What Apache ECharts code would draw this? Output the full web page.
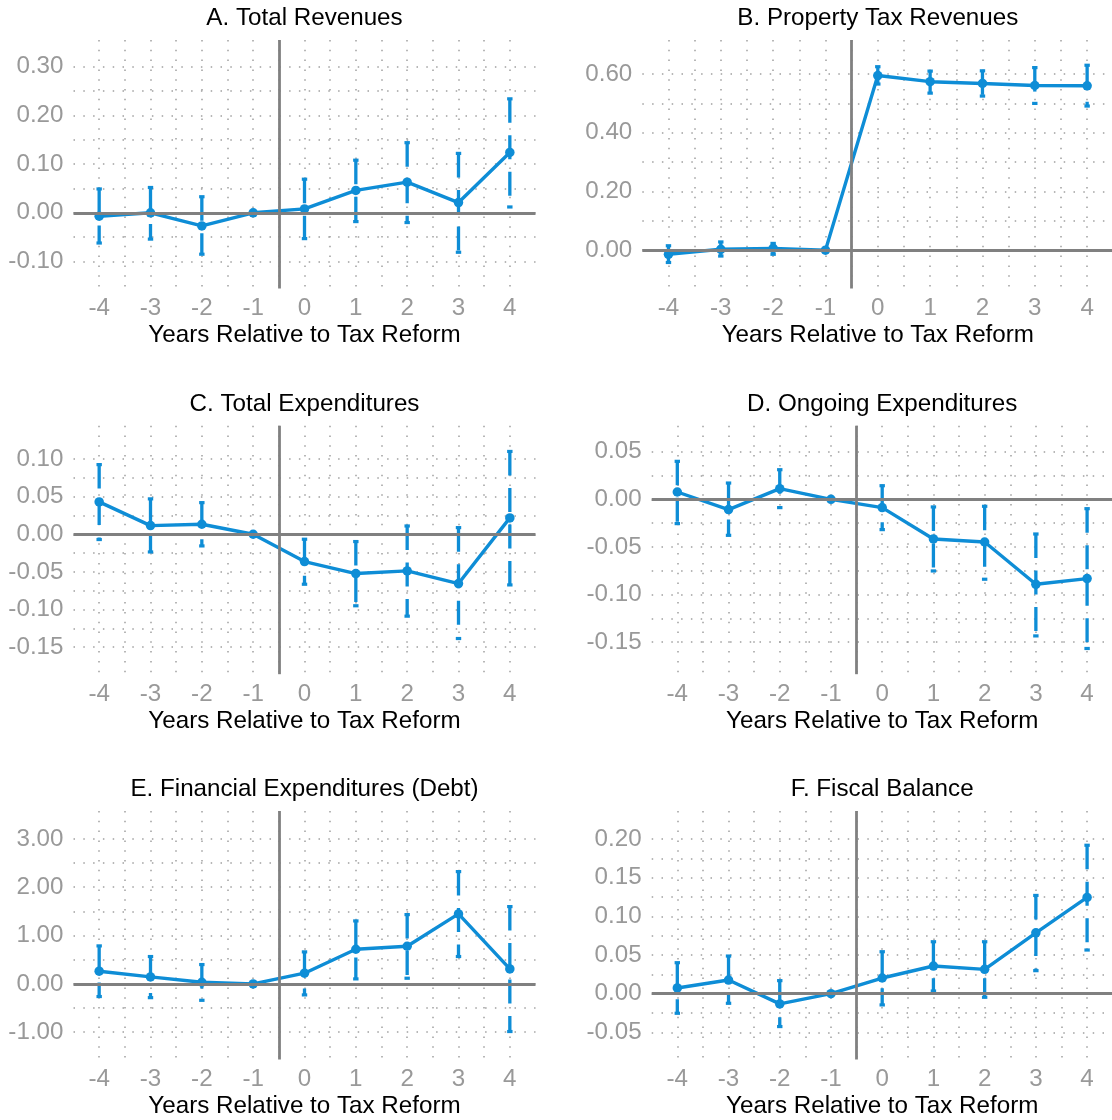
<!DOCTYPE html>
<html><head><meta charset="utf-8">
<script src="https://cdn.jsdelivr.net/npm/echarts@6/dist/echarts.min.js"></script>
<style>html,body{margin:0;padding:0;background:#fff}#c{width:1112px;height:1120px}</style>
</head><body><div id="c"></div>
<script>
// ---------- data ----------
const years = [-4, -3, -2, -1, 0, 1, 2, 3, 4];
const xLabels = [-4, -3, -2, -1, 0, 1, 2, 3, 4];
const xGridVals = [-4, -3.5, -3, -2.5, -2, -1.5, -1, -0.5, 0, 0.5, 1, 1.5, 2, 2.5, 3, 3.5, 4];
const axisTitle = 'Years Relative to Tax Reform';

const titleA = 'A. Total Revenues';
const estA = [-0.007, 0.000, -0.027, 0, 0.008, 0.046, 0.063, 0.021, 0.124];
const loA  = [-0.062, -0.054, -0.085, null, -0.053, -0.018, -0.020, -0.081, 0.012];
const hiA  = [0.049, 0.052, 0.033, null, 0.069, 0.108, 0.144, 0.122, 0.234];
const yMajA = [-0.1, 0, 0.1, 0.2, 0.3];
const yMinA = [-0.05, 0.05, 0.15, 0.25];

const titleB = 'B. Property Tax Revenues';
const estB = [-0.014, 0.003, 0.006, 0, 0.595, 0.574, 0.568, 0.561, 0.560];
const loB  = [-0.042, -0.020, -0.014, null, 0.566, 0.535, 0.525, 0.500, 0.491];
const hiB  = [0.015, 0.028, 0.023, null, 0.625, 0.610, 0.611, 0.622, 0.630];
const yMajB = [0, 0.2, 0.4, 0.6];
const yMinB = [0.1, 0.3, 0.5];

const titleC = 'C. Total Expenditures';
const estC = [0.0430, 0.0115, 0.0133, 0, -0.0363, -0.0522, -0.0487, -0.0655, 0.0217];
const loC  = [-0.0070, -0.0235, -0.0155, null, -0.0664, -0.0950, -0.1088, -0.1385, -0.0673];
const hiC  = [0.0925, 0.0470, 0.0420, null, -0.0066, -0.0097, 0.0110, 0.0088, 0.1100];
const yMajC = [-0.15, -0.1, -0.05, 0, 0.05, 0.1];
const yMinC = [-0.125, -0.075, -0.025, 0.025, 0.075];

const titleD = 'D. Ongoing Expenditures';
const estD = [0.0077, -0.0108, 0.0112, 0, -0.0087, -0.0416, -0.0448, -0.0892, -0.0832];
const loD  = [-0.0255, -0.0378, -0.0087, null, -0.0318, -0.0752, -0.0839, -0.1434, -0.1566];
const hiD  = [0.0399, 0.0171, 0.0311, null, 0.0143, -0.0080, -0.0073, -0.0364, -0.0098];
const yMajD = [-0.15, -0.1, -0.05, 0, 0.05];
const yMinD = [-0.125, -0.075, -0.025, 0.025];

const titleE = 'E. Financial Expenditures (Debt)';
const estE = [0.262, 0.145, 0.034, 0, 0.221, 0.717, 0.779, 1.448, 0.310];
const loE  = [-0.262, -0.285, -0.340, null, -0.228, 0.103, 0.117, 0.566, -0.986];
const hiE  = [0.786, 0.566, 0.400, null, 0.662, 1.303, 1.434, 2.324, 1.600];
const yMajE = [-1, 0, 1, 2, 3];
const yMinE = [-0.5, 0.5, 1.5, 2.5];

const titleF = 'F. Fiscal Balance';
const estF = [0.0073, 0.0176, -0.0133, 0, 0.0202, 0.0357, 0.0314, 0.0787, 0.1244];
const loF  = [-0.0254, -0.0125, -0.0426, null, -0.0146, 0.0034, -0.0047, 0.0297, 0.0564];
const hiF  = [0.0400, 0.0486, 0.0168, null, 0.0542, 0.0671, 0.0671, 0.1270, 0.1919];
const yMajF = [-0.05, 0, 0.05, 0.1, 0.15, 0.2];
const yMinF = [-0.025, 0.025, 0.075, 0.125, 0.175];

// ---------- layout / style ----------
const FONT = "'Liberation Sans', Arial, sans-serif";
const FS = 24.2;
const BLUE = '#0e8dd6';
const GREY = '#808080';
const DOT = {color: '#a0a0a0', width: 1.5, type: [1.5, 8.3]};

const panels = [
  {t: titleA, e: estA, lo: loA, hi: hiA, maj: yMajA, min: yMinA, yr: [-0.1554, 0.3548], g: {left: 73.5, top: 40, width: 462, height: 248.5}},
  {t: titleB, e: estB, lo: loB, hi: hiB, maj: yMajB, min: yMinB, yr: [-0.1306, 0.716], g: {left: 642.3, top: 40, width: 471, height: 248.5}},
  {t: titleC, e: estC, lo: loC, hi: hiC, maj: yMajC, min: yMinC, yr: [-0.1859, 0.1442], g: {left: 73.5, top: 425.7, width: 462, height: 248.5}},
  {t: titleD, e: estD, lo: loD, hi: hiD, maj: yMajD, min: yMinD, yr: [-0.1836, 0.0773], g: {left: 651.7, top: 425.7, width: 461, height: 248.5}},
  {t: titleE, e: estE, lo: loE, hi: hiE, maj: yMajE, min: yMinE, yr: [-1.565, 3.578], g: {left: 73.5, top: 811, width: 462, height: 248.5}},
  {t: titleF, e: estF, lo: loF, hi: hiF, maj: yMajF, min: yMinF, yr: [-0.0852, 0.2362], g: {left: 651.7, top: 811, width: 461, height: 248.5}}
];

function renderErr(params, api) {
  const x = api.value(0), lo = api.value(1), hi = api.value(2);
  const pt = api.coord([x, hi]);
  const pb = api.coord([x, lo]);
  const cap = 2.7;
  const base = {stroke: BLUE, lineWidth: 3.3, fill: null, lineCap: 'butt'};
  return {
    type: 'group',
    children: [
      {type: 'line', shape: {x1: pt[0], y1: pt[1], x2: pb[0], y2: pb[1]}, style: Object.assign({}, base, {lineDash: [24, 12.5]})},
      {type: 'line', shape: {x1: pt[0] - cap, y1: pt[1], x2: pt[0] + cap, y2: pt[1]}, style: Object.assign({}, base, {lineWidth: 3.2})},
      {type: 'line', shape: {x1: pb[0] - cap, y1: pb[1], x2: pb[0] + cap, y2: pb[1]}, style: Object.assign({}, base, {lineWidth: 3.2})}
    ]
  };
}

const grid = [], xAxis = [], yAxis = [], series = [], graphic = [];
panels.forEach((p, i) => {
  grid.push(Object.assign({containLabel: false, outerBoundsMode: 'none'}, p.g));
  xAxis.push({
    type: 'value', gridIndex: i, min: -4.5, max: 4.5,
    axisLine: {show: false},
    axisTick: {show: false, customValues: xGridVals},
    splitLine: {show: true, lineStyle: DOT},
    axisLabel: {customValues: xLabels, formatter: v => String(v), color: '#999999', fontSize: FS, fontFamily: FONT, margin: 8},
    name: axisTitle, nameLocation: 'middle', nameGap: 35, nameMoveOverlap: false,
    nameTextStyle: {color: '#000', fontSize: FS, fontFamily: FONT}
  });
  const ticks = p.maj.concat(p.min).sort((a, b) => a - b);
  yAxis.push({
    type: 'value', gridIndex: i, min: p.yr[0], max: p.yr[1],
    axisLine: {show: false},
    axisTick: {show: false, customValues: ticks},
    splitLine: {show: true, lineStyle: DOT},
    axisLabel: {customValues: p.maj, formatter: v => v.toFixed(2), color: '#999999', fontSize: FS, fontFamily: FONT, margin: 10}
  });
  // reference lines (zero and policy line)
  series.push({
    type: 'line', xAxisIndex: i, yAxisIndex: i, data: [], z: 1, silent: true,
    markLine: {
      silent: true, symbol: ['none', 'none'], label: {show: false},
      lineStyle: {color: GREY, width: 2.8, type: 'solid'},
      emphasis: {disabled: true},
      data: [{yAxis: 0}, {xAxis: -0.5}]
    }
  });
  const errData = [];
  years.forEach((yr, k) => { if (p.lo[k] !== null) errData.push([yr, p.lo[k], p.hi[k]]); });
  series.push({
    type: 'custom', xAxisIndex: i, yAxisIndex: i, z: 3, silent: true,
    renderItem: renderErr, data: errData
  });
  series.push({
    type: 'line', xAxisIndex: i, yAxisIndex: i, z: 4, silent: true,
    data: years.map((yr, k) => [yr, p.e[k]]),
    symbol: 'circle', symbolSize: 9.5, showSymbol: true,
    itemStyle: {color: BLUE},
    lineStyle: {color: BLUE, width: 3.4}
  });
  graphic.push({
    type: 'text', x: p.g.left + p.g.width / 2, y: p.g.top - 21.5,
    style: {text: p.t, fill: '#000', font: FS + 'px ' + FONT, align: 'center', verticalAlign: 'middle', textAlign: 'center', textVerticalAlign: 'middle'}
  });
});

const chart = echarts.init(document.getElementById('c'), null, {renderer: 'canvas'});
chart.setOption({
  animation: false,
  backgroundColor: '#ffffff',
  grid, xAxis, yAxis, series, graphic
});
</script>
</body></html>
